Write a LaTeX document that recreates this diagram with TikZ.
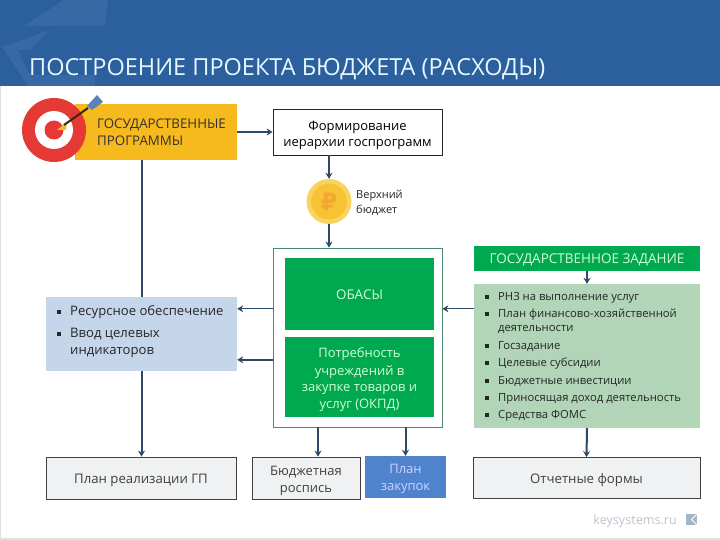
\documentclass[tikz,border=0pt]{standalone}
\usepackage{fontspec}
\setmainfont{Open Sans}
\newfontfamily\symfont{DejaVu Sans}
\usetikzlibrary{arrows.meta,calc}
\definecolor{headblue}{HTML}{2B5F9E}
\definecolor{headpale}{HTML}{3769A5}
\definecolor{linedark}{HTML}{2F4A66}
\definecolor{goldbox}{HTML}{F6B91E}
\definecolor{greenbox}{HTML}{00A94F}
\definecolor{greenedge}{HTML}{4A8A70}
\definecolor{palegreen}{HTML}{B1D5B6}
\definecolor{paleblue}{HTML}{C5D6EB}
\definecolor{greybox}{HTML}{F0F1F2}
\definecolor{planblue}{HTML}{4F83CC}
\definecolor{targetred}{HTML}{E53935}
\definecolor{coingold}{HTML}{F7C233}
\definecolor{coinring}{HTML}{FAD35E}
\definecolor{coinmark}{HTML}{EFA92E}
\definecolor{footgrey}{HTML}{BCC4CE}
\definecolor{logogrey}{HTML}{A3B7C6}
\newcommand{\fs}[1]{\fontsize{#1}{#1}\selectfont}
\newcommand{\bul}{\rule[1.5pt]{3.6pt}{3.6pt}}
\newcommand{\topgap}[1]{\rule{0pt}{#1pt}}
\tikzstyle{plainbox}=[rectangle,draw=black!85,fill=white,line width=0.8pt,inner sep=0pt,align=center]
\tikzstyle{greybl}=[rectangle,draw=black!75,fill=greybox,line width=0.8pt,inner sep=0pt,align=center,text=black!75]
\tikzstyle{greenbl}=[rectangle,fill=greenbox,inner sep=0pt,align=center,text=white!82!green]
\tikzstyle{item}=[anchor=base west,inner sep=0pt,text=black!85]
\tikzstyle{line}=[draw=linedark,line width=2pt,-{Stealth[length=6pt,width=7pt]}]
\tikzstyle{thinline}=[draw=linedark,line width=1pt,-{Stealth[length=6pt,width=7pt]}]
\newcommand{\bx}[5]{\node[#1,minimum width=#4pt,minimum height=#5pt] (#2) at (#3) }
\begin{document}
\begin{tikzpicture}[x=1pt,y=-1pt]
\useasboundingbox (0,0) rectangle (720,540);
\fill[white] (0,0) rectangle (720,540);
\fill[black!12] (0,538) rectangle (720,540);
\fill[black!12] (0,86) rectangle (1,540);
\fill[headblue] (0,0) rectangle (720,86);
\fill[headpale] (24,26) -- (64,0) -- (108,0) -- (105,26) -- cycle;
\fill[headpale] (2,47) -- (50,30) -- (30,50) -- (18,50) -- (30,75) -- (95,75) -- (95,86) -- (28,86) -- cycle;
\node[anchor=base west,inner sep=0pt,text=white!90!cyan] (title) at (29,76) {\fs{23.5}ПОСТРОЕНИЕ ПРОЕКТА БЮДЖЕТА (РАСХОДЫ)};

\bx{rectangle,fill=goldbox,inner sep=0pt}{prog}{156,132}{162}{56} {};
\node[anchor=base west,inner sep=0pt,text=black!80] (progtext) at (97,129) {\fs{13.3}ГОСУДАРСТВЕННЫЕ};
\node[anchor=base west,inner sep=0pt,text=black!80] (progtext2) at (97,146) {\fs{13.3}ПРОГРАММЫ};
\node[circle,fill=targetred,minimum size=64pt,inner sep=0pt] (outerring) at (54,130) {};
\node[circle,fill=white,minimum size=38pt,inner sep=0pt] (midring) at (54,130) {};
\node[circle,fill=targetred,minimum size=19pt,inner sep=0pt] (bull) at (54,130) {};
\fill[goldbox] (57,130) -- (67,122) -- (66,130) -- cycle;
\draw[black!70!brown,line width=2pt] (64,125) -- (88,108);
\fill[planblue!75!gray] (87,106) -- (97,95) -- (103,102) -- (95,108) -- (92,110) -- cycle;

\bx{plainbox}{form}{357.5,132}{169}{46} {\topgap{16}\fs{13}Формирование\\[4.5pt]\fs{13}иерархии госпрограмм};

\node[circle,fill=coinring,minimum size=45pt,inner sep=0pt] (coin) at (329,201.5) {};
\node[circle,fill=coingold,minimum size=36pt,inner sep=0pt,text=coinmark] (coincore) at (coin) {\symfont\bfseries\fs{24}₽};
\node[anchor=base west,inner sep=0pt,text=black!85] (topa) at (356,199) {\fs{11}Верхний};
\node[anchor=base west,inner sep=0pt,text=black!85] (topb) at (356,214) {\fs{11}бюджет};

\bx{rectangle,draw=greenedge,fill=white,line width=0.8pt,inner sep=0pt}{obasouter}{357.5,337.5}{169}{179} {};
\bx{greenbl}{obas}{359.5,294}{149}{72} {\topgap{12}\fs{13.4}ОБАСЫ};
\bx{greenbl}{need}{359.5,377}{149}{80} {\topgap{15}\fs{13}Потребность\\[4pt]\fs{13}учреждений в\\[4pt]\fs{13}закупке товаров и\\[4pt]\fs{13}услуг (ОКПД)};

\bx{rectangle,fill=paleblue,inner sep=0pt}{res}{141.5,334}{191}{74} {};
\node[item] (resa) at (57,315) {\fs{13}\bul};
\node[item] (resb) at (70,315) {\fs{13.1}Ресурсное обеспечение};
\node[item] (resc) at (57,337) {\fs{13}\bul};
\node[item] (resd) at (70,337) {\fs{13.1}Ввод целевых};
\node[item] (rese) at (70,354) {\fs{13.1}индикаторов};

\bx{greenbl}{task}{587,258.5}{226}{25} {\topgap{12}\fs{13.5}ГОСУДАРСТВЕННОЕ ЗАДАНИЕ};
\bx{rectangle,fill=palegreen,inner sep=0pt}{tasklist}{587,356}{226}{144} {};
\node[item] (la) at (485,300) {\fs{10}\bul};
\node[item] (lb) at (498,300) {\fs{11.25}РНЗ на выполнение услуг};
\node[item] (lc) at (485,317) {\fs{10}\bul};
\node[item] (ld) at (498,317) {\fs{11.25}План финансово-хозяйственной};
\node[item] (le) at (498,331) {\fs{11.25}деятельности};
\node[item] (lf) at (485,349) {\fs{10}\bul};
\node[item] (lg) at (498,349) {\fs{11.25}Госзадание};
\node[item] (lh) at (485,366) {\fs{10}\bul};
\node[item] (li) at (498,366) {\fs{11.25}Целевые субсидии};
\node[item] (lj) at (485,384) {\fs{10}\bul};
\node[item] (lk) at (498,384) {\fs{11.25}Бюджетные инвестиции};
\node[item] (ll) at (485,401) {\fs{10}\bul};
\node[item] (lm) at (498,401) {\fs{11.25}Приносящая доход деятельность};
\node[item] (ln) at (485,418) {\fs{10}\bul};
\node[item] (lo) at (498,418) {\fs{11.25}Средства ФОМС};

\bx{greybl}{planrel}{141,478}{190}{42} {\topgap{15}\fs{13.2}План реализации ГП};
\bx{greybl}{rosp}{306,478}{108}{42} {\topgap{15}\fs{13}Бюджетная\\[4.5pt]\fs{13}роспись};
\bx{rectangle,fill=planblue,inner sep=0pt,align=center,text=white!82!blue}{zak}{405.5,477}{81}{42} {\topgap{13}\fs{13}План\\[4.5pt]\fs{13}закупок};
\bx{greybl}{otch}{586.5,478}{227}{41} {\topgap{14}\fs{13.2}Отчетные формы};

\node[anchor=base east,inner sep=0pt,text=footgrey] (site) at (677,524) {\fs{12.6}keysystems.ru};
\node[rectangle,fill=logogrey,minimum width=11pt,minimum height=11pt,inner sep=0pt] (sitelogo) at (691.5,519.5) {};
\draw[white,line width=1pt] (sitelogo.north east) -- (sitelogo.center) -- (sitelogo.south east);

\path [line] (prog.east |- form.west) -- (form.west);
\path [line] (form.south -| coin) -- (coin.north);
\path [line] (coin.south) -- (obasouter.north -| coin);
\path [line,-] (prog.south -| res.north) -- (res.north);
\path [line] (res.south) -- (planrel.north -| res.south);
\path [thinline] (obasouter.west |- obas.north) ++(0,51) -- ($(res.east |- obas.north)+(0,51)$);
\path [line] (obasouter.west |- need.north) ++(0,23) -- ($(res.east |- need.north)+(0,23)$);
\path [thinline] (tasklist.west |- obas.north) ++(0,51) -- ($(obasouter.east |- obas.north)+(0,51)$);
\path [line] (task.south) -- (tasklist.north);
\path [line] (tasklist.south) -- (otch.north);
\path [line] (obasouter.south -| rosp.north) ++(12,0) -- ($(rosp.north)+(12,0)$);
\path [line] (obasouter.south -| zak.north) -- (zak.north);
\end{tikzpicture}
\end{document}
